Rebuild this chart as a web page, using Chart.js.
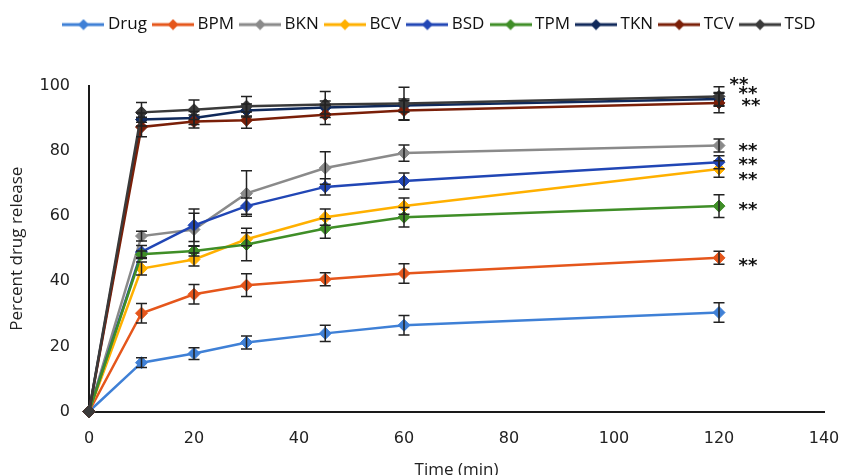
<!DOCTYPE html>
<html><head><meta charset="utf-8">
<script src="https://cdn.jsdelivr.net/npm/chart.js@4"></script>
<style>html,body{margin:0;padding:0;background:#fff}#wrap{width:846px;height:475px;position:relative}</style>
</head><body><div id="wrap"><canvas id="c" width="846" height="475"></canvas></div>
<script>
// ---- data ----
const times = [0, 10, 20, 30, 45, 60, 120];
const seriesNames = ['Drug', 'BPM', 'BKN', 'BCV', 'BSD', 'TPM', 'TKN', 'TCV', 'TSD'];

const drug = [0, 15.0, 17.8, 21.2, 24.0, 26.5, 30.4];
const bpm  = [0, 30.2, 36.0, 38.8, 40.6, 42.4, 47.2];
const bkn  = [0, 53.9, 55.9, 67.0, 74.8, 79.4, 81.7];
const bcv  = [0, 43.9, 46.7, 52.9, 59.7, 63.1, 74.5];
const bsd  = [0, 49.0, 57.2, 63.1, 69.0, 70.8, 76.6];
const tpm  = [0, 48.3, 49.3, 51.3, 56.2, 59.7, 63.1];
const tkn  = [0, 89.7, 90.2, 92.5, 93.4, 94.0, 96.0];
const tcv  = [0, 87.4, 89.1, 89.5, 91.2, 92.5, 94.8];
const tsd  = [0, 91.9, 92.7, 93.8, 94.3, 94.6, 96.8];

const drugErr = [0, 1.5, 1.8, 2.0, 2.5, 3.0, 3.0];
const bpmErr  = [0, 3.0, 3.0, 3.5, 2.0, 3.0, 2.0];
const bknErr  = [0, 1.5, 5.0, 7.0, 5.0, 2.5, 2.0];
const bcvErr  = [0, 2.0, 2.0, 2.0, 2.5, 2.5, 2.5];
const bsdErr  = [0, 2.0, 5.0, 2.5, 2.5, 2.5, 2.0];
const tpmErr  = [0, 1.0, 1.5, 5.0, 3.0, 3.0, 3.5];
const tknErr  = [0, 2.0, 2.0, 2.0, 2.0, 2.0, 2.0];
const tcvErr  = [0, 3.0, 2.0, 2.5, 3.0, 3.0, 3.0];
const tsdErr  = [0, 3.0, 3.0, 3.0, 4.0, 5.0, 3.0];

const seriesValues = [drug, bpm, bkn, bcv, bsd, tpm, tkn, tcv, tsd];
const seriesErrors = [drugErr, bpmErr, bknErr, bcvErr, bsdErr, tpmErr, tknErr, tcvErr, tsdErr];
const seriesColors = ['#3f80d6', '#e5561b', '#8a8a8a', '#ffb000', '#2146b5', '#3f8e27', '#10295a', '#7a1f08', '#3a3a3a'];

// significance marks ("**") next to the 120 min points
const starLabel = '**';
const starX = [123.8, 125.5, 126.1, 125.5, 125.5, 125.5, 125.5, 125.5];
const starY = [101.4, 98.6, 94.8, 81.0, 76.7, 72.1, 63.0, 45.7];

const xTicks = [0, 20, 40, 60, 80, 100, 120, 140];
const yTicks = [0, 20, 40, 60, 80, 100];

// ---- legend markers: line with a diamond ----
function legendMarker(color) {
  const c = document.createElement('canvas');
  c.width = 42; c.height = 12;
  const g = c.getContext('2d');
  g.strokeStyle = color; g.lineWidth = 3;
  g.beginPath(); g.moveTo(0, 6); g.lineTo(42, 6); g.stroke();
  g.fillStyle = color;
  g.beginPath(); g.moveTo(21, 0.5); g.lineTo(26.5, 6); g.lineTo(21, 11.5); g.lineTo(15.5, 6); g.closePath(); g.fill();
  return c;
}
const markers = seriesColors.map(legendMarker);

const datasets = seriesNames.map((name, i) => ({
  label: name,
  data: times.map((t, j) => ({ x: t, y: seriesValues[i][j] })),
  borderColor: seriesColors[i],
  backgroundColor: seriesColors[i],
  borderWidth: 2.5,
  pointStyle: 'rectRot',
  pointRadius: 6,
  pointBorderWidth: 1,
  tension: 0,
  clip: false,
  order: seriesNames.length - i
}));

const errPlugin = {
  id: 'errbars',
  afterDatasetsDraw(chart) {
    const ctx = chart.ctx, xs = chart.scales.x, ys = chart.scales.y;
    ctx.save();
    ctx.strokeStyle = '#222';
    ctx.lineWidth = 1.5;
    chart.data.datasets.forEach((ds, i) => {
      const errs = seriesErrors[i];
      ds.data.forEach((p, j) => {
        const e = errs[j];
        if (!e) return;
        const x = xs.getPixelForValue(p.x);
        const y1 = ys.getPixelForValue(p.y + e);
        const y2 = ys.getPixelForValue(p.y - e);
        ctx.beginPath();
        ctx.moveTo(x, y1); ctx.lineTo(x, y2);
        ctx.moveTo(x - 5.5, y1); ctx.lineTo(x + 5.5, y1);
        ctx.moveTo(x - 5.5, y2); ctx.lineTo(x + 5.5, y2);
        ctx.stroke();
      });
    });
    ctx.restore();
  },
  afterDraw(chart) {
    const ctx = chart.ctx, xs = chart.scales.x, ys = chart.scales.y;
    ctx.save();
    ctx.fillStyle = '#111';
    ctx.font = 'bold 18px "DejaVu Sans"';
    ctx.textAlign = 'center';
    ctx.textBaseline = 'alphabetic';
    const m = ctx.measureText(starLabel);
    const off = (m.actualBoundingBoxDescent - m.actualBoundingBoxAscent) / 2;
    starX.forEach((sx, k) => {
      ctx.fillText(starLabel, xs.getPixelForValue(sx), ys.getPixelForValue(starY[k]) - off);
    });
    ctx.restore();
  }
};

const layoutPlugin = {
  id: 'layoutTweaks',
  beforeLayout(chart) {
    const lg = chart.legend;
    if (lg && !lg._patched) {
      const f = lg.fit;
      lg.fit = function () { f.call(this); this.height = 86; };
      lg._patched = true;
    }
  },
  afterLayout(chart) {
    const lg = chart.legend;
    if (lg) { lg.left += 29.5; lg.right += 29.5; lg.top += 6; lg.bottom += 6; }
  }
};

new Chart(document.getElementById('c'), {
  type: 'line',
  data: { datasets },
  options: {
    responsive: false,
    devicePixelRatio: 1,
    animation: false,
    layout: { padding: { left: 0, right: 22, top: 0, bottom: 0 } },
    plugins: {
      tooltip: { enabled: false },
      legend: {
        position: 'top',
        labels: {
          usePointStyle: true,
          pointStyleWidth: 32,
          padding: 10.1,
          color: '#111',
          font: { family: 'Open Sans', size: 17 },
          generateLabels: (chart) => chart.data.datasets.map((ds, i) => ({
            text: ds.label,
            fillStyle: ds.borderColor,
            strokeStyle: ds.borderColor,
            lineWidth: 0,
            pointStyle: markers[i],
            hidden: false,
            datasetIndex: i,
            fontColor: '#111'
          }))
        }
      }
    },
    scales: {
      x: {
        type: 'linear', min: 0, max: 140,
        afterBuildTicks: (s) => { s.ticks = xTicks.map(v => ({ value: v })); },
        afterFit: (s) => { s.height = 63.5; s.paddingRight = 0; s.paddingLeft = 0; },
        grid: { display: false, drawTicks: false },
        border: { display: true, color: '#1a1a1a', width: 2 },
        ticks: { padding: 18, color: '#222', font: { family: 'DejaVu Sans', size: 16 } },
        title: { display: true, text: 'Time (min)', color: '#222', font: { family: 'Open Sans', size: 17 }, padding: { top: 0, bottom: -5 } }
      },
      y: {
        type: 'linear', min: 0, max: 100,
        afterBuildTicks: (s) => { s.ticks = yTicks.map(v => ({ value: v })); },
        afterFit: (s) => { s.width = 89; },
        grid: { display: false, drawTicks: false },
        border: { display: true, color: '#1a1a1a', width: 2 },
        ticks: { padding: 19, color: '#222', font: { family: 'DejaVu Sans', size: 16 } },
        title: { display: true, text: 'Percent drug release', color: '#222', font: { family: 'Open Sans', size: 17 }, padding: { top: 7, bottom: 0 } }
      }
    }
  },
  plugins: [errPlugin, layoutPlugin]
});
</script>
</body></html>
